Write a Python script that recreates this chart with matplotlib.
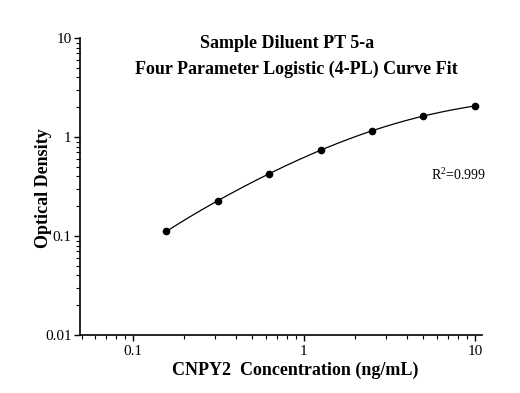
import numpy as np
import matplotlib
matplotlib.use("Agg")
import matplotlib.pyplot as plt
from matplotlib.ticker import LogLocator, NullFormatter, FixedLocator, FixedFormatter

# Data
conc = [0.156, 0.3125, 0.625, 1.25, 2.5, 5.0, 10.0]
od = [0.112, 0.226, 0.423, 0.739, 1.15, 1.63, 2.06]
title_lines = ["Sample Diluent PT 5-a", "Four Parameter Logistic (4-PL) Curve Fit"]
r2_text = "R$^2$=0.999"
xticks = [0.1, 1, 10]
xtick_labels = ["0.1", "1", "10"]
yticks = [0.01, 0.1, 1, 10]
ytick_labels = ["0.01", "0.1", "1", "10"]

x = np.array(conc)
y = np.array(od)

# 4-PL fit: y = D + (A-D)/(1+(x/C)^B); A, D linear given B, C
best = None
for B in np.linspace(0.3, 3.0, 271):
    for logC in np.linspace(-1, 3, 401):
        C = 10 ** logC
        f = 1.0 / (1.0 + (x / C) ** B)
        M = np.column_stack([f, 1 - f])
        coef, *_ = np.linalg.lstsq(M, y, rcond=None)
        r = np.sum((M @ coef - y) ** 2)
        if best is None or r < best[0]:
            best = (r, B, C, coef)
_, B, C, (A, D) = best
xs = np.logspace(np.log10(x.min()), np.log10(x.max()), 300)
ys = D + (A - D) / (1 + (xs / C) ** B)

plt.rcParams['font.family'] = ['Liberation Serif', 'DejaVu Serif']
plt.rcParams['mathtext.fontset'] = 'custom'
plt.rcParams['mathtext.rm'] = 'Liberation Serif'
fig = plt.figure(figsize=(5.2, 3.93), dpi=100)
ax = fig.add_axes([80/520, 1-335/393, 402/520, 297/393])
ax.plot(xs, ys, color='black', lw=0.9)
ax.plot(x, y, 'o', color='black', ms=4.5)
ax.set_xscale('log')
ax.set_yscale('log')
ax.set_xlim(0.049, 11.0)
ax.set_ylim(0.01, 10)
for s in ['top', 'right']:
    ax.spines[s].set_visible(False)
for s in ['left', 'bottom']:
    ax.spines[s].set_linewidth(1.2)
ax.xaxis.set_major_locator(FixedLocator(xticks))
ax.xaxis.set_major_formatter(FixedFormatter(xtick_labels))
ax.yaxis.set_major_locator(FixedLocator(yticks))
ax.yaxis.set_major_formatter(FixedFormatter(ytick_labels))
ax.xaxis.set_minor_locator(LogLocator(base=10, subs=np.arange(2, 10)))
ax.yaxis.set_minor_locator(LogLocator(base=10, subs=np.arange(2, 10)))
ax.xaxis.set_minor_formatter(NullFormatter())
ax.yaxis.set_minor_formatter(NullFormatter())
ax.tick_params(which='major', direction='out', length=4.5, width=1, labelsize=11)
ax.tick_params(axis='y', which='major', pad=1.5)
ax.tick_params(axis='x', which='major', pad=3)
ax.tick_params(which='minor', direction='out', length=3, width=0.8)

fig.text(43/520, 1-188/393, "Optical Density", rotation=90, ha='center', va='center',
         fontsize=13, fontweight='bold')
fig.text(295/520, 1-370/393, "CNPY2  Concentration (ng/mL)", ha='center', va='center',
         fontsize=13, fontweight='bold')

fig.text(287/520, 1-44/393, title_lines[0], ha='center', va='center', fontsize=13, fontweight='bold')
fig.text(296/520, 1-69/393, title_lines[1], ha='center', va='center', fontsize=13, fontweight='bold')
ax.text(0.873, 0.539, r2_text, transform=ax.transAxes, ha='left', va='center', fontsize=10)

fig.savefig("out.png", dpi=100)
